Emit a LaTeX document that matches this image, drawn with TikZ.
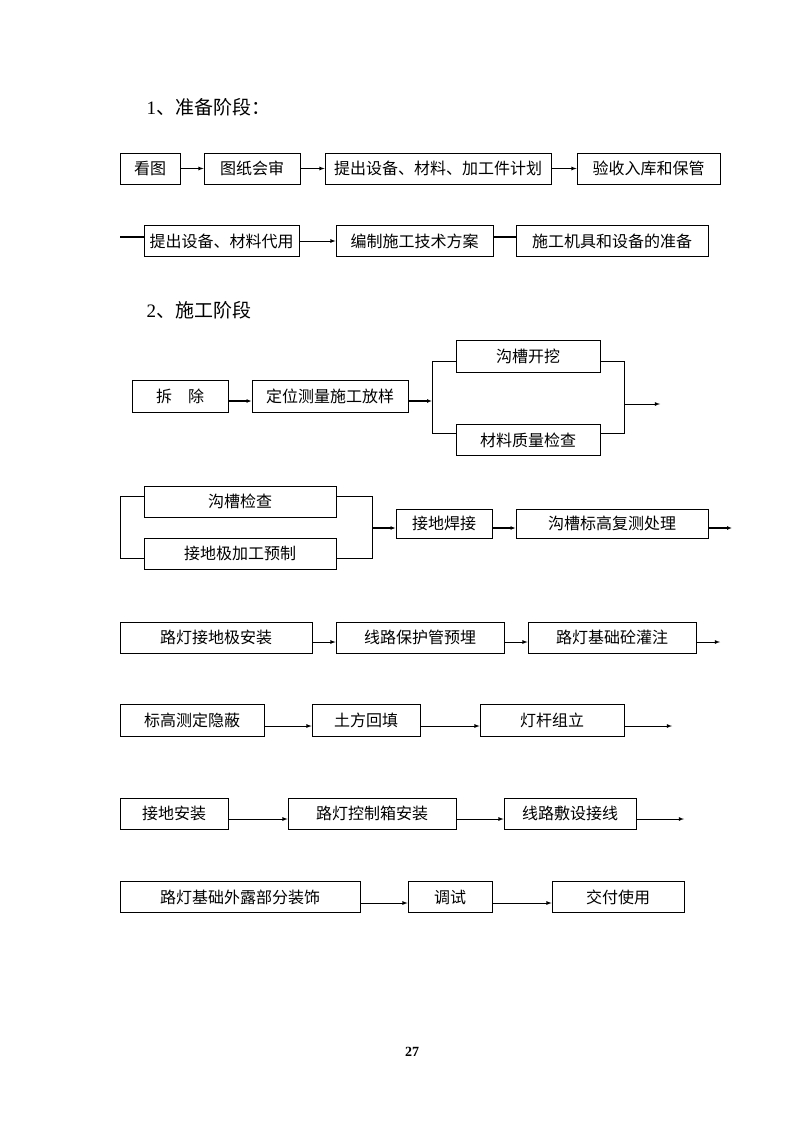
\documentclass[tikz,border=0pt]{standalone}
\usepackage{fontspec}
\setmainfont{Liberation Serif}
\newfontfamily\cjk{Noto Sans CJK SC}
\usetikzlibrary{arrows, arrows.meta, positioning}

\begin{document}
\begin{tikzpicture}[x=1pt, y=-1pt,
    box/.style={draw, line width=0.8pt, inner sep=0pt, minimum height=31pt, font=\cjk\fontsize{16}{19}\selectfont},
    thinarr/.style={-latex, line width=0.8pt},
    thickarr/.style={-{Latex[length=5pt, width=4pt]}, line width=2pt},
    head/.style={anchor=west, font=\fontsize{19}{23}\selectfont}]
    \useasboundingbox (0,0) rectangle (794,1123);

    % headings
    \node[head] (h1) at (143,107) {1{\cjk 、准备阶段：}};
    \node[head] (h2) at (143,310) {2{\cjk 、施工阶段}};

    % 1 preparation
    \node[box, minimum width=60pt] (kantu) at (150,168.5) {看图};
    \node[box, minimum width=96pt] (huishen) at (252,168.5) {图纸会审};
    \node[box, minimum width=226pt] (jihua) at (438,168.5) {提出设备、材料、加工件计划};
    \node[box, minimum width=143pt] (baoguan) at (648.5,168.5) {验收入库和保管};
    \path[thinarr] (kantu) edge (huishen)
                   (huishen) edge (jihua)
                   (jihua) edge (baoguan);

    \node[box, minimum width=155pt] (daiyong) at (221.5,241) {提出设备、材料代用};
    \node[box, minimum width=157pt] (fangan) at (414.5,241) {编制施工技术方案};
    \node[box, minimum width=192pt] (zhunbei) at (612,241) {施工机具和设备的准备};
    \coordinate (r2in) at (120,237);
    \draw[line width=2.5pt] (r2in) -- ([yshift=4pt]daiyong.west);
    \path[thinarr] (daiyong) edge (fangan);
    \draw[line width=2.5pt] ([yshift=4pt]fangan.east) -- ([yshift=4pt]zhunbei.west);

    % 2 construction
    \node[box, minimum width=96pt, minimum height=32pt] (chaichu) at (180,396) {拆　除};
    \node[box, minimum width=156pt, minimum height=32pt] (fangyang) at (330,396) {定位测量施工放样};
    \node[box, minimum width=144pt, minimum height=32pt] (kaiwa) at (528,356) {沟槽开挖};
    \node[box, minimum width=144pt] (zhiliang) at (528,440) {材料质量检查};
    \coordinate (l3top) at (432,361);
    \coordinate (l3mid) at (432,401);
    \coordinate (l3bot) at (432,433);
    \coordinate (r3top) at (624,361);
    \coordinate (r3mid) at (624,404);
    \coordinate (r3bot) at (624,433);
    \coordinate (r3out) at (660,404);
    \draw[thickarr] ([yshift=-5pt]chaichu.east) -- ([yshift=-5pt]fangyang.west);
    \draw[thickarr] ([yshift=-5pt]fangyang.east) -- (l3mid);
    \draw[line width=0.8pt] ([yshift=-5pt]kaiwa.west) -- (l3top) -- (l3bot) -- ([yshift=7pt]zhiliang.west);
    \draw[line width=0.8pt] ([yshift=-5pt]kaiwa.east) -- (r3top) -- (r3bot) -- ([yshift=7pt]zhiliang.east);
    \draw[thinarr] (r3mid) -- (r3out);

    \node[box, minimum width=192pt] (goucao) at (240,501.5) {沟槽检查};
    \node[box, minimum width=192pt] (yuzhi) at (240,553.5) {接地极加工预制};
    \node[box, minimum width=96pt, minimum height=29pt] (hanjie) at (444,523.5) {接地焊接};
    \node[box, minimum width=192pt, minimum height=29pt] (fuce) at (612,523.5) {沟槽标高复测处理};
    \coordinate (l4top) at (120,496);
    \coordinate (l4bot) at (120,558);
    \coordinate (r4top) at (372,496);
    \coordinate (r4mid) at (372,528);
    \coordinate (r4bot) at (372,558);
    \coordinate (r4out) at (732,528);
    \draw[line width=0.8pt] ([yshift=5.5pt]goucao.west) -- (l4top) -- (l4bot) -- ([yshift=-4.5pt]yuzhi.west);
    \draw[line width=0.8pt] ([yshift=5.5pt]goucao.east) -- (r4top) -- (r4bot) -- ([yshift=-4.5pt]yuzhi.east);
    \draw[thickarr] (r4mid) -- ([yshift=-4.5pt]hanjie.west);
    \draw[thickarr] ([yshift=-4.5pt]hanjie.east) -- ([yshift=-4.5pt]fuce.west);
    \draw[thickarr] ([yshift=-4.5pt]fuce.east) -- (r4out);

    \node[box, minimum width=192pt] (jdanzhuang) at (216,637.5) {路灯接地极安装};
    \node[box, minimum width=168pt] (yumai) at (420,637.5) {线路保护管预埋};
    \node[box, minimum width=168pt] (guanzhu) at (612,637.5) {路灯基础砼灌注};
    \coordinate (r5out) at (720,642);
    \path[thinarr] ([yshift=-4.5pt]jdanzhuang.east) edge ([yshift=-4.5pt]yumai.west)
                   ([yshift=-4.5pt]yumai.east) edge ([yshift=-4.5pt]guanzhu.west)
                   ([yshift=-4.5pt]guanzhu.east) edge (r5out);

    \node[box, minimum width=144pt, minimum height=32pt] (yinbi) at (192,720.5) {标高测定隐蔽};
    \node[box, minimum width=108pt, minimum height=32pt] (huitian) at (366,720.5) {土方回填};
    \node[box, minimum width=144pt, minimum height=32pt] (zuli) at (552,720.5) {灯杆组立};
    \coordinate (r6out) at (672,726);
    \path[thinarr] ([yshift=-5.5pt]yinbi.east) edge ([yshift=-5.5pt]huitian.west)
                   ([yshift=-5.5pt]huitian.east) edge ([yshift=-5.5pt]zuli.west)
                   ([yshift=-5.5pt]zuli.east) edge (r6out);

    \node[box, minimum width=108pt] (jiedi) at (174,813.5) {接地安装};
    \node[box, minimum width=168pt] (kongzhi) at (372,813.5) {路灯控制箱安装};
    \node[box, minimum width=132pt] (jiexian) at (570,813.5) {线路敷设接线};
    \coordinate (r7out) at (684,819);
    \path[thinarr] ([yshift=-5.5pt]jiedi.east) edge ([yshift=-5.5pt]kongzhi.west)
                   ([yshift=-5.5pt]kongzhi.east) edge ([yshift=-5.5pt]jiexian.west)
                   ([yshift=-5.5pt]jiexian.east) edge (r7out);

    \node[box, minimum width=240pt] (zhuangshi) at (240,897) {路灯基础外露部分装饰};
    \node[box, minimum width=84pt] (tiaoshi) at (450,897) {调试};
    \node[box, minimum width=132pt] (jiaofu) at (618,897) {交付使用};
    \path[thinarr] ([yshift=-6pt]zhuangshi.east) edge ([yshift=-6pt]tiaoshi.west)
                   ([yshift=-6pt]tiaoshi.east) edge ([yshift=-6pt]jiaofu.west);

    % page number
    \node[font=\bfseries\fontsize{14}{16}\selectfont] (page) at (412,1052) {27};
\end{tikzpicture}
\end{document}
